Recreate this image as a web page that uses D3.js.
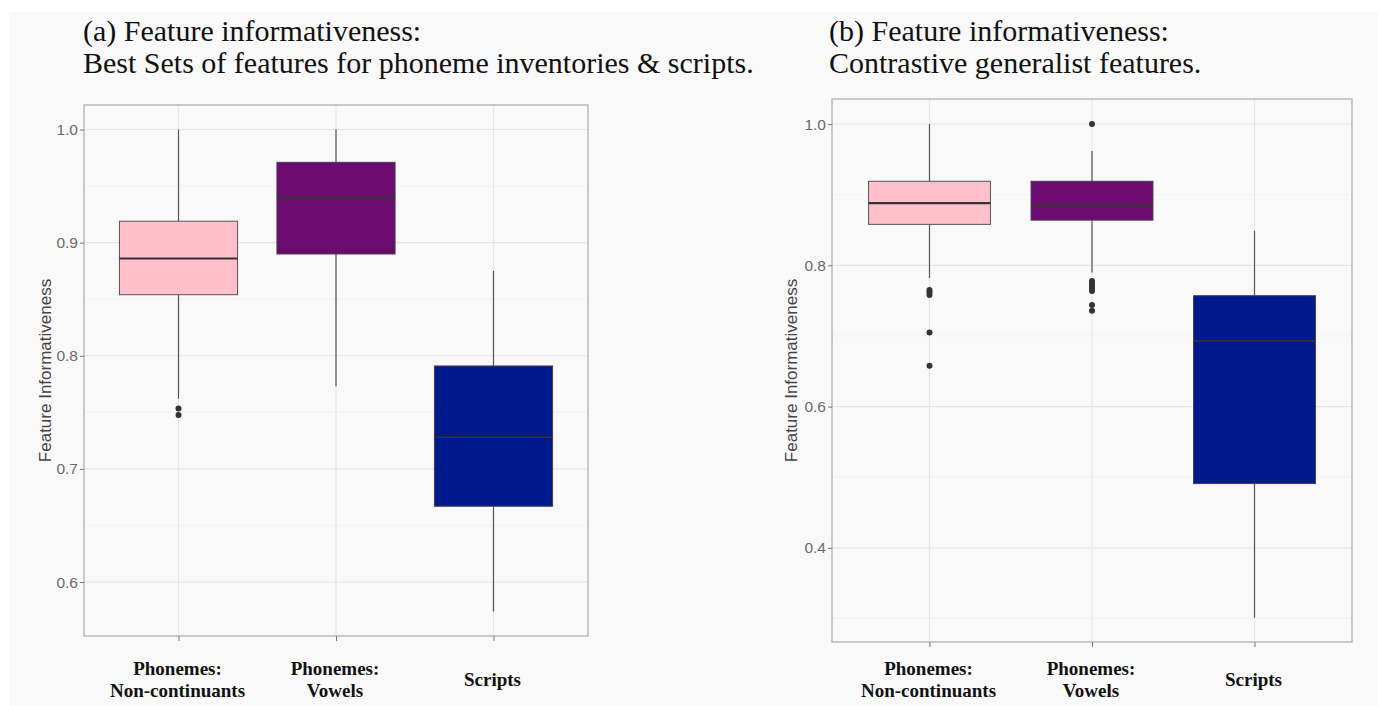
<!DOCTYPE html>
<html><head><meta charset="utf-8">
<script src="https://cdn.jsdelivr.net/npm/d3@7"></script>
<style>
html,body{margin:0;padding:0;background:#ffffff;}
svg{display:block;}
</style></head>
<body>
<svg id="chart" width="1378" height="706"></svg>
<script>
// ---------- DATA ----------
const categories = ["Phonemes:\nNon-continuants", "Phonemes:\nVowels", "Scripts"];
const colors = ["#ffc0cb", "#6b0a6f", "#001a8b"];

// Panel (a)
const aLowerWhisker = [0.762, 0.773, 0.574];
const aQ1           = [0.854, 0.890, 0.667];
const aMedian       = [0.886, 0.939, 0.728];
const aQ3           = [0.919, 0.971, 0.791];
const aUpperWhisker = [1.000, 1.000, 0.875];
const aOutliers     = [[0.7535, 0.7476], [], []];
const aMajorTicks   = [0.6, 0.7, 0.8, 0.9, 1.0];
const aMinorTicks   = [0.65, 0.75, 0.85, 0.95];

// Panel (b)
const bLowerWhisker = [0.782, 0.790, 0.301];
const bQ1           = [0.858, 0.864, 0.491];
const bMedian       = [0.888, 0.885, 0.693];
const bQ3           = [0.919, 0.919, 0.757];
const bUpperWhisker = [1.000, 0.962, 0.849];
const bOutliers     = [[0.765, 0.762, 0.758, 0.705, 0.658],
                       [1.0, 0.7777, 0.7745, 0.771, 0.7674, 0.7636, 0.744, 0.7356], []];
const bMajorTicks   = [0.4, 0.6, 0.8, 1.0];
const bMinorTicks   = [0.3, 0.5, 0.7, 0.9];

const yLabel = "Feature Informativeness";
const titlesA = ["(a) Feature informativeness:", "Best Sets of features for phoneme inventories & scripts."];
const titlesB = ["(b) Feature informativeness:", "Contrastive generalist features."];

// ---------- DRAW ----------
const svg = d3.select("#chart");
svg.append("rect").attr("x", 9).attr("y", 12).attr("width", 1369).attr("height", 694).attr("fill", "#f9f9f9");

function panel(cfg) {
  const g = svg.append("g");
  const unit = (cfg.right - cfg.left) / 3.2;
  const xc = d3.scalePoint().domain(categories).range([cfg.left + 0.6 * unit, cfg.right - 0.6 * unit]);
  const bw = 0.75 * unit;
  const y = d3.scaleLinear().domain(cfg.domain).range([cfg.bottom, cfg.top]);

  // grid
  g.selectAll(".minor").data(cfg.minor).join("line")
    .attr("x1", cfg.left).attr("x2", cfg.right)
    .attr("y1", d => y(d)).attr("y2", d => y(d))
    .attr("stroke", "#f0f0f2").attr("stroke-width", 0.8);
  g.selectAll(".major").data(cfg.major).join("line")
    .attr("x1", cfg.left).attr("x2", cfg.right)
    .attr("y1", d => y(d)).attr("y2", d => y(d))
    .attr("stroke", "#e6e6ea").attr("stroke-width", 1.1);
  g.selectAll(".vmajor").data(categories).join("line")
    .attr("x1", d => xc(d)).attr("x2", d => xc(d))
    .attr("y1", cfg.top).attr("y2", cfg.bottom)
    .attr("stroke", "#e6e6ea").attr("stroke-width", 1.1);

  // boxes
  categories.forEach((c, i) => {
    const cx = xc(c);
    g.append("line").attr("x1", cx).attr("x2", cx)
      .attr("y1", y(cfg.uw[i])).attr("y2", y(cfg.q3[i]))
      .attr("stroke", "#555").attr("stroke-width", 1.2);
    g.append("line").attr("x1", cx).attr("x2", cx)
      .attr("y1", y(cfg.q1[i])).attr("y2", y(cfg.lw[i]))
      .attr("stroke", "#555").attr("stroke-width", 1.2);
    g.append("rect").attr("x", cx - bw / 2).attr("width", bw)
      .attr("y", y(cfg.q3[i])).attr("height", y(cfg.q1[i]) - y(cfg.q3[i]))
      .attr("fill", colors[i]).attr("stroke", i === 0 ? "#555" : "#4a3a55").attr("stroke-width", 1);
    g.append("line").attr("x1", cx - bw / 2).attr("x2", cx + bw / 2)
      .attr("y1", y(cfg.med[i])).attr("y2", y(cfg.med[i]))
      .attr("stroke", "#333").attr("stroke-width", i === 2 ? 1.6 : 2.2);
    g.selectAll(null).data(cfg.out[i]).join("circle")
      .attr("cx", cx).attr("cy", d => y(d)).attr("r", 3).attr("fill", "#333");
  });

  // border
  g.append("rect").attr("x", cfg.left).attr("y", cfg.top)
    .attr("width", cfg.right - cfg.left).attr("height", cfg.bottom - cfg.top)
    .attr("fill", "none").attr("stroke", "#a8a8b0").attr("stroke-width", 1.2);

  // y axis
  const yAxis = d3.axisLeft(y).tickValues(cfg.major).tickFormat(d3.format(".1f")).tickSize(4).tickPadding(2);
  const ya = g.append("g").attr("transform", `translate(${cfg.left},0)`).call(yAxis);
  ya.select(".domain").remove();
  ya.selectAll("line").attr("stroke", "#777");
  ya.selectAll("text").attr("fill", "#6a6a6a").style("font-family", "'Liberation Sans', Arial, sans-serif").style("font-size", "15.5px");

  // x axis ticks
  const xAxis = d3.axisBottom(xc).tickSize(5).tickFormat("");
  const xa = g.append("g").attr("transform", `translate(0,${cfg.bottom})`).call(xAxis);
  xa.select(".domain").remove();
  xa.selectAll("line").attr("stroke", "#777");

  // x labels
  categories.forEach((c, i) => {
    const lines = c.split("\n");
    const cx = xc(c);
    lines.forEach((ln, j) => {
      g.append("text").attr("x", cx - 1).attr("y", lines.length === 2 ? 675 + j * 22 : 686)
        .attr("text-anchor", "middle")
        .style("font-family", "'Liberation Serif', 'Times New Roman', serif")
        .style("font-weight", "bold").style("font-size", "19px").attr("fill", "#111")
        .text(ln);
    });
  });

  // y label
  g.append("text")
    .attr("transform", `translate(${cfg.ylabX},${(cfg.top + cfg.bottom) / 2}) rotate(-90)`)
    .attr("text-anchor", "middle")
    .style("font-family", "'Liberation Sans', Arial, sans-serif").style("font-size", "17px")
    .attr("fill", "#444").text(yLabel);

  // title
  cfg.titles.forEach((tt, j) => {
    g.append("text").attr("x", cfg.titleX).attr("y", 41 + j * 32)
      .style("font-family", "'Liberation Serif', 'Times New Roman', serif")
      .style("font-size", "30px").attr("fill", "#111").text(tt);
  });
}

panel({left: 84, right: 588, top: 105, bottom: 636, domain: [0.5523, 1.0217],
  major: aMajorTicks, minor: aMinorTicks,
  lw: aLowerWhisker, q1: aQ1, med: aMedian, q3: aQ3, uw: aUpperWhisker, out: aOutliers,
  ylabX: 51, titles: titlesA, titleX: 83});
panel({left: 832, right: 1352, top: 99, bottom: 642, domain: [0.2667, 1.0355],
  major: bMajorTicks, minor: bMinorTicks,
  lw: bLowerWhisker, q1: bQ1, med: bMedian, q3: bQ3, uw: bUpperWhisker, out: bOutliers,
  ylabX: 797, titles: titlesB, titleX: 829});
</script>
</body></html>
